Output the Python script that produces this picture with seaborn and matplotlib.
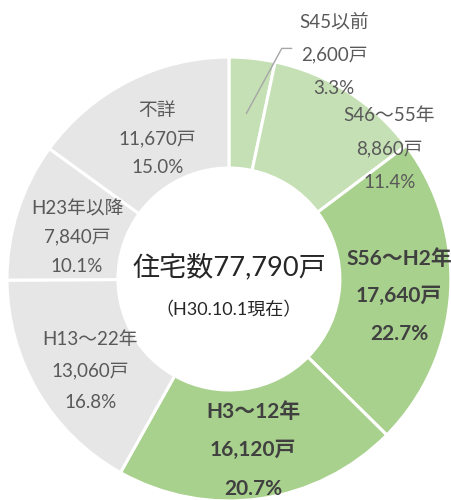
import numpy as np
import matplotlib
matplotlib.use("Agg")
import matplotlib.pyplot as plt
import seaborn as sns

# Data
periods = ["S45以前", "S46〜55年", "S56〜H2年", "H3〜12年", "H13〜22年", "H23年以降", "不詳"]
houses = [2600, 8860, 17640, 16120, 13060, 7840, 11670]
shares = ["3.3%", "11.4%", "22.7%", "20.7%", "16.8%", "10.1%", "15.0%"]
total_label = "住宅数77,790戸"
date_label = "（H30.10.1現在）"

# Style per slice: colour, label radius, angle shift (deg), line gap (data units), bold
light_green, green, grey = "#c5e0b4", "#a9d18e", "#e7e6e6"
colors = [light_green, light_green, green, green, grey, grey, grey]
label_r = [None, 0.93, 0.77, 0.78, 0.75, 0.71, 0.71]
label_shift = [0, -18.5, -2, 0, 3, 2.5, 0]
gaps = [0.152, 0.150, 0.170, 0.172, 0.142, 0.130, 0.128]
bold = [False, False, True, True, False, False, False]

sns.set_theme(style="white")
plt.rcParams["font.family"] = ["Lato", "Noto Sans CJK JP", "DejaVu Sans"]

fig = plt.figure(figsize=(4.52, 5.0), dpi=100)
ax = fig.add_axes([0.0155, -0.002, 0.982, 0.888])

wedges, _ = ax.pie(houses, colors=colors, startangle=90, counterclock=False,
                   radius=1.0, wedgeprops=dict(width=0.5, edgecolor="white", linewidth=2.2))
ax.set_xlim(-1, 1)
ax.set_ylim(-1, 1)
ax.set_aspect("equal")
ax.axis("off")


def draw_label(x, y, i):
    lines = [periods[i], f"{houses[i]:,}戸", shares[i]]
    if bold[i]:
        kw = dict(fontsize=15, fontweight="bold", color="#404040")
    else:
        kw = dict(fontsize=13.5, color="#595959")
    for k, line in enumerate(lines):
        ax.text(x, y + (1 - k) * gaps[i], line, ha="center", va="center", **kw)


for i, w in enumerate(wedges):
    mid = np.deg2rad((w.theta1 + w.theta2) / 2)
    if label_r[i] is None:
        # small slice: label outside with a leader line
        lx, ly = 0.473, 1.009
        draw_label(lx, ly, i)
        sx, sy = 0.75 * np.cos(mid), 0.75 * np.sin(mid)
        ax.plot([sx, lx - 0.235, lx - 0.19], [sy, ly + 0.03, ly + 0.03],
                color="#a6a6a6", lw=1.0, clip_on=False)
        continue
    a = mid + np.deg2rad(label_shift[i])
    draw_label(label_r[i] * np.cos(a), label_r[i] * np.sin(a), i)

ax.text(0, 0.054, total_label, ha="center", va="center", fontsize=19.5, color="#262626")
ax.text(0, -0.14, date_label, ha="center", va="center", fontsize=13, color="#262626")

fig.savefig("out.png", dpi=100)
